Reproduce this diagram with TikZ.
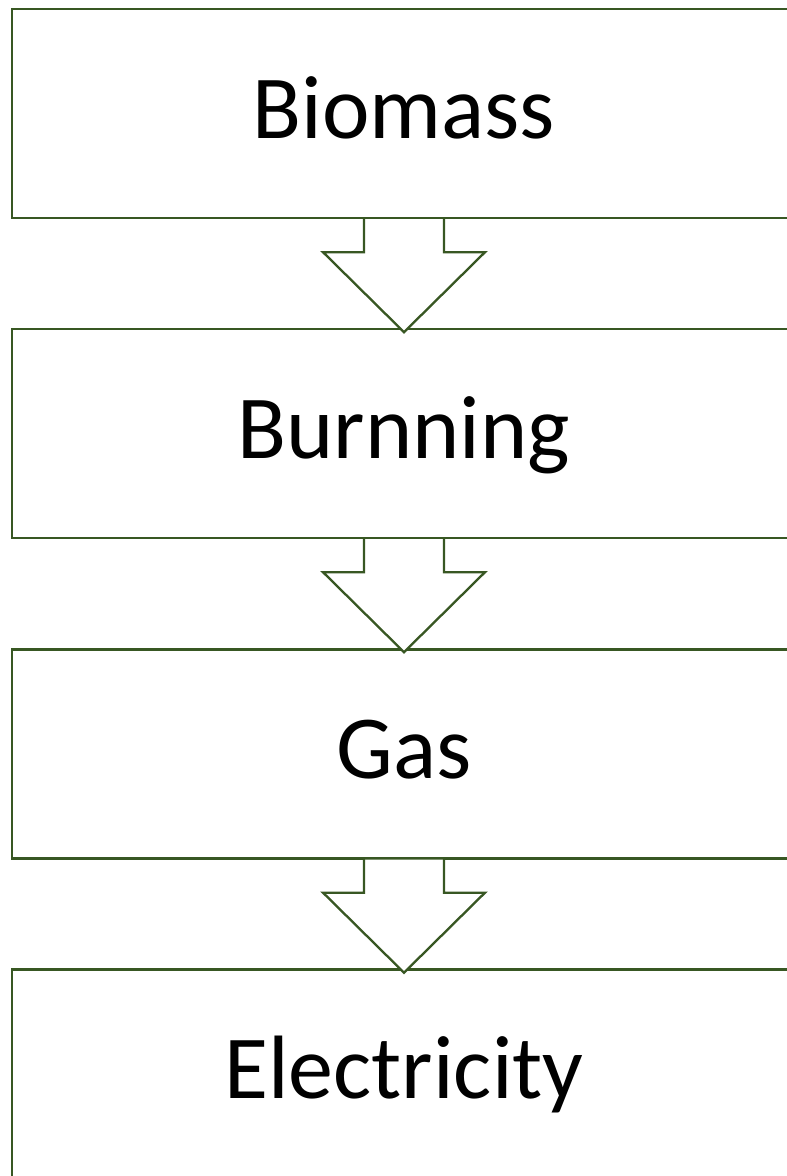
\documentclass[tikz,border=0pt]{standalone}
\usepackage{fontspec}
\setmainfont{Carlito}
\usetikzlibrary{calc}
\definecolor{stepgreen}{HTML}{385723}
\tikzset{
  stepbox/.style={draw=stepgreen, line width=2.3pt, minimum width=784pt, minimum height=209pt,
    inner sep=0pt, text height=66pt, text depth=17pt,
    font=\fontsize{90}{100}\selectfont, text=black},
  arrowline/.style={draw=stepgreen, line width=2.3pt, line join=miter},
}
\begin{document}
\begin{tikzpicture}[x=1pt, y=-1pt]
\useasboundingbox (0,0) rectangle (787,1176);
\clip (0,0) rectangle (787,1176);
\node[stepbox] (b1) at (404,113.5) {Biomass};
\node[stepbox] (b2) at (404,433.5) {Burnning};
\node[stepbox] (b3) at (404,754) {Gas};
\node[stepbox] (b4) at (404,1074) {Electricity};
\foreach \a/\b in {b1/b2, b2/b3, b3/b4}{
  \coordinate (s) at (\a.south);
  \fill[white] ($(s)+(-40,0)$) -- ($(s)+(-40,33)$) -- ($(s)+(-81,33)$) -- ($(s)+(0,113)$)
     -- ($(s)+(81,33)$) -- ($(s)+(40,33)$) -- ($(s)+(40,0)$) -- cycle;
  \draw[arrowline] ($(s)+(-40,-1.2)$) -- ($(s)+(-40,33)$) -- ($(s)+(-81,33)$) -- ($(s)+(0,113)$)
     -- ($(s)+(81,33)$) -- ($(s)+(40,33)$) -- ($(s)+(40,-1.2)$);
}
\end{tikzpicture}
\end{document}
